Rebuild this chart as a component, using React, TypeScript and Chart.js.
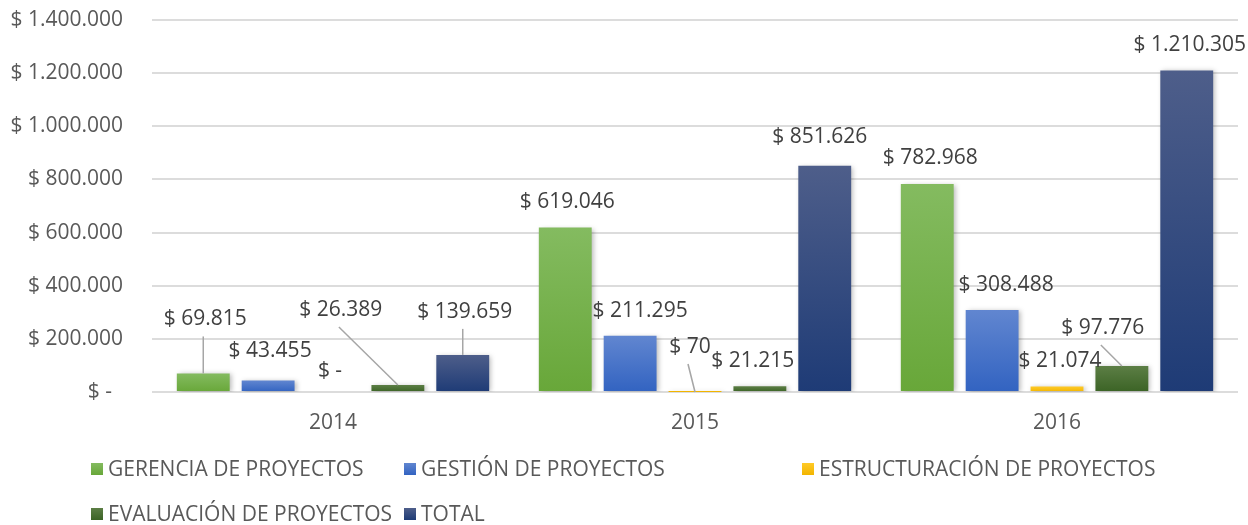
import React, { useEffect, useRef } from 'react';
import { Chart, registerables } from 'chart.js';

Chart.register(...registerables);

// ---- data ----
const CATEGORIES = ['2014', '2015', '2016'];
const SERIES_NAMES = [
  'GERENCIA DE PROYECTOS',
  'GESTIÓN DE PROYECTOS',
  'ESTRUCTURACIÓN DE PROYECTOS',
  'EVALUACIÓN DE PROYECTOS',
  'TOTAL',
];
const GERENCIA = [69815, 619046, 782968];
const GESTION = [43455, 211295, 308488];
const ESTRUCTURACION = [0, 70, 21074];
const EVALUACION = [26389, 21215, 97776];
const TOTAL = [139659, 851626, 1210305];
const Y_MIN = 0;
const Y_MAX = 1400000;
const Y_STEP = 200000;

// ---- styles ----
const FONT = "'Open Sans', sans-serif";
const GRADIENTS: [string, string][] = [
  ['#84bb60', '#68a739'],
  ['#6186d0', '#3263c1'],
  ['#ffca28', '#f2b500'],
  ['#5c7e45', '#3b6325'],
  ['#4e5e8a', '#1e3b76'],
];
// label offsets relative to default position (bar centre, 25px above bar top): [dx, dy, leaderLine]
const LABEL_OFFSETS: [number, number, boolean][][] = [
  [[2, -29, true], [2, 0, false], [3, -1, false]],
  [[2, -4, false], [10, 0, false], [14, 0, false]],
  [[-3, 4, false], [-5, -20, true], [3, 0, false]],
  [[-57, -50, true], [-7, 0, false], [-19, -13, true]],
  [[2, -18, true], [-5, -4, false], [3, 0, false]],
];
const LEGEND_COLS = [91, 404, 802];
const LEGEND_ROWS = [469, 514];

function fmt(v: number): string {
  if (v === 0) return '$ -';
  return '$ ' + String(Math.round(v)).replace(/\B(?=(\d{3})+(?!\d))/g, '.');
}

export default function App() {
  const ref = useRef<HTMLCanvasElement | null>(null);

  useEffect(() => {
    document.body.style.margin = '0';
    const canvas = ref.current;
    if (!canvas) return;

    const seriesData = [GERENCIA, GESTION, ESTRUCTURACION, EVALUACION, TOTAL];

    const shadowPlugin = {
      id: 'barShadow',
      beforeDatasetsDraw(chart: any) {
        const ctx = chart.ctx;
        ctx.save();
        ctx.shadowColor = 'rgba(0,0,0,0.28)';
        ctx.shadowBlur = 5;
        ctx.shadowOffsetX = 2;
        ctx.shadowOffsetY = 1;
      },
      afterDatasetsDraw(chart: any) {
        chart.ctx.restore();
      },
    };

    const labelPlugin = {
      id: 'valueLabels',
      afterDatasetsDraw(chart: any) {
        const ctx = chart.ctx;
        ctx.save();
        ctx.font = `21px ${FONT}`;
        ctx.textAlign = 'center';
        ctx.textBaseline = 'middle';
        chart.data.datasets.forEach((ds: any, i: number) => {
          const meta = chart.getDatasetMeta(i);
          meta.data.forEach((el: any, j: number) => {
            const [dx, dy, leader] = LABEL_OFFSETS[i][j];
            const tx = el.x + dx;
            const ty = el.y - 25 + dy;
            if (leader) {
              ctx.strokeStyle = '#a6a6a6';
              ctx.lineWidth = 1.5;
              ctx.beginPath();
              ctx.moveTo(tx - 2, ty + 17);
              ctx.lineTo(el.x, el.y);
              ctx.stroke();
            }
            ctx.fillStyle = '#404040';
            ctx.fillText(fmt(ds.data[j]), tx, ty);
          });
        });
        ctx.restore();
      },
    };

    const legendPlugin = {
      id: 'gridLegend',
      afterDraw(chart: any) {
        const ctx = chart.ctx;
        ctx.save();
        ctx.font = `21px ${FONT}`;
        ctx.textAlign = 'left';
        ctx.textBaseline = 'middle';
        SERIES_NAMES.forEach((name, i) => {
          const col = i % 3;
          const row = Math.floor(i / 3);
          const x = LEGEND_COLS[col];
          const y = LEGEND_ROWS[row];
          const g = ctx.createLinearGradient(0, y - 6, 0, y + 6);
          g.addColorStop(0, GRADIENTS[i][0]);
          g.addColorStop(1, GRADIENTS[i][1]);
          ctx.fillStyle = g;
          ctx.fillRect(x, y - 6, 12, 12);
          ctx.fillStyle = '#595959';
          ctx.fillText(name, x + 17, y + 1);
        });
        ctx.restore();
      },
    };

    const chart = new Chart(canvas, {
      type: 'bar',
      data: {
        labels: CATEGORIES,
        datasets: seriesData.map((d, i) => ({
          label: SERIES_NAMES[i],
          data: d,
          categoryPercentage: 0.896,
          barPercentage: 0.815,
          backgroundColor: (c: any) => {
            const ch = c.chart;
            const area = ch.chartArea;
            if (!area || c.type !== 'data') return GRADIENTS[i][0];
            const ys = ch.scales.y;
            const top = ys.getPixelForValue(c.raw);
            const bottom = ys.getPixelForValue(0);
            if (bottom - top < 1) return GRADIENTS[i][1];
            const g = ch.ctx.createLinearGradient(0, top, 0, bottom);
            g.addColorStop(0, GRADIENTS[i][0]);
            g.addColorStop(1, GRADIENTS[i][1]);
            return g;
          },
          borderWidth: 0,
        })),
      },
      options: {
        responsive: false,
        devicePixelRatio: 1,
        animation: false,
        layout: { padding: { top: 20, right: 10, left: 0, bottom: 0 } },
        plugins: {
          legend: { display: false },
          tooltip: { enabled: false },
        },
        scales: {
          x: {
            grid: { display: false, drawTicks: false },
            border: { display: false },
            ticks: { color: '#595959', font: { family: FONT, size: 21 }, padding: 18 },
            afterFit: (s: any) => { s.height = 133; s.paddingLeft = 0; s.paddingRight = 0; },
          },
          y: {
            min: Y_MIN,
            max: Y_MAX,
            grid: { color: '#dcdcdc', lineWidth: 2, drawTicks: false },
            border: { display: false },
            ticks: {
              stepSize: Y_STEP,
              color: '#595959',
              font: { family: FONT, size: 21 },
              padding: 29,
              callback: (v: any) => (Number(v) === 0 ? '$ -  ' : fmt(Number(v))),
            },
            afterFit: (s: any) => { s.width = 152; s.paddingTop = 0; s.paddingBottom = 0; },
          },
        },
      },
      plugins: [shadowPlugin, labelPlugin, legendPlugin],
    });

    return () => chart.destroy();
  }, []);

  return (
    <div style={{ position: 'absolute', left: 0, top: 0, width: 1248, height: 525 }}>
      <canvas ref={ref} width={1248} height={525} style={{ display: 'block' }} />
    </div>
  );
}
